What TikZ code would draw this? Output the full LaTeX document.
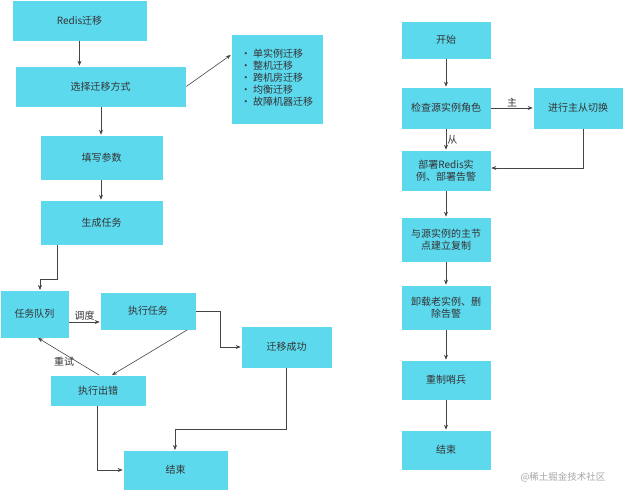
\documentclass[tikz,border=0pt]{standalone}
\usepackage{fontspec}
\setmainfont{Noto Sans CJK SC}
\usetikzlibrary{arrows.meta}
\definecolor{bx}{HTML}{5DD9EE}
\definecolor{tx}{HTML}{333333}
\definecolor{ln}{HTML}{444444}
\begin{document}
\begin{tikzpicture}[x=1pt,y=-1pt,
  bxs/.style={fill=bx,draw=white,line width=0.6pt,text=tx,font=\fontsize{10}{12}\selectfont,align=center,inner sep=0pt},
  con/.style={draw=ln,line width=0.6pt,-{Stealth[length=5pt,width=4pt]}},
  lab/.style={text=tx,font=\fontsize{10}{12}\selectfont,inner sep=1pt}]
\useasboundingbox (0,0) rectangle (625,490);
\newcommand{\bx}[6]{\node[bxs,minimum width=#4-#2,minimum height=#5-#3] (#1) at ({(#2+#4)/2},{(#3+#5)/2}) {#6};}
\bx{a}{12}{0}{147}{41}{Redis迁移}
\bx{b}{15}{66}{186}{107}{选择迁移方式}
\node[bxs,minimum width=92,minimum height=90,align=left] (l) at (277,79) {\begin{tabular}{@{}l@{}}\textbullet\ 单实例迁移\\ \textbullet\ 整机迁移\\ \textbullet\ 跨机房迁移\\ \textbullet\ 均衡迁移\\ \textbullet\ 故障机器迁移\end{tabular}};
\bx{c}{40}{135}{163}{180}{填写参数}
\bx{d}{40}{200}{163}{245}{生成任务}
\bx{q}{0}{290}{69}{338}{任务队列}
\bx{e}{100}{292}{196}{330}{执行任务}
\bx{s}{241}{326}{332}{368}{迁移成功}
\bx{f}{50}{375}{146}{406}{执行出错}
\bx{g}{123}{450}{228}{490}{结束}
\bx{r1}{401}{21}{491}{59}{开始}
\bx{r2}{401}{87}{491}{129}{检查源实例角色}
\bx{r3}{533}{87}{623}{129}{进行主从切换}
\bx{r4}{401}{150}{491}{191}{部署Redis实\\例、部署告警}
\bx{r5}{401}{217}{491}{262}{与源实例的主节\\点建立复制}
\bx{r6}{401}{285}{491}{330}{卸载老实例、删\\除告警}
\bx{r7}{401}{360}{491}{400}{重制哨兵}
\bx{r8}{401}{430}{491}{470}{结束}
\node[text=gray!70,font=\fontsize{9.5}{11}\selectfont] (w) at (563,477) {@稀土掘金技术社区};
% left connectors
\draw[con] (a.south) -- (a.south|-b.north);
\draw[con] (101,107) coordinate(b1) -- (b1|-c.north);
\draw[con] (101,180) coordinate(c1) -- (c1|-d.north);
\draw[con] (b.east) -- (l.west|-0,55) coordinate (l1);
\draw[con] (57,245) coordinate(d1) |- (40,279) -- (40,290);
\draw[con] (q.east|-0,322) -- (e.west|-0,322) node[lab,midway,above] {调度};
\draw[con] (187,330) coordinate(e1) -- (112,375) coordinate(f1);
\draw[con] (99,375) coordinate(f2) -- (38,338) coordinate(q1);
\node[lab] (rt) at (64,362) {重试};
\draw[con] (e.east|-0,311) -| (220,347) -- (s.west|-0,347);
\draw[con] (286,368) coordinate(s1) |- (175,429) -- (175,450);
\draw[con] (97,406) coordinate(f3) |- (g.west|-0,470);
% right connectors
\draw[con] (r1) -- (r2);
\draw[con] (r2) -- (r3) node[lab,midway,above] {主};
\draw[con] (r2) -- (r4) node[lab,pos=0.5,right] {从};
\draw[con] (583,129) coordinate(r31) |- (r4.east|-0,168);
\draw[con] (r4) -- (r5);
\draw[con] (r5) -- (r6);
\draw[con] (r6) -- (r7);
\draw[con] (r7) -- (r8);
\end{tikzpicture}
\end{document}
